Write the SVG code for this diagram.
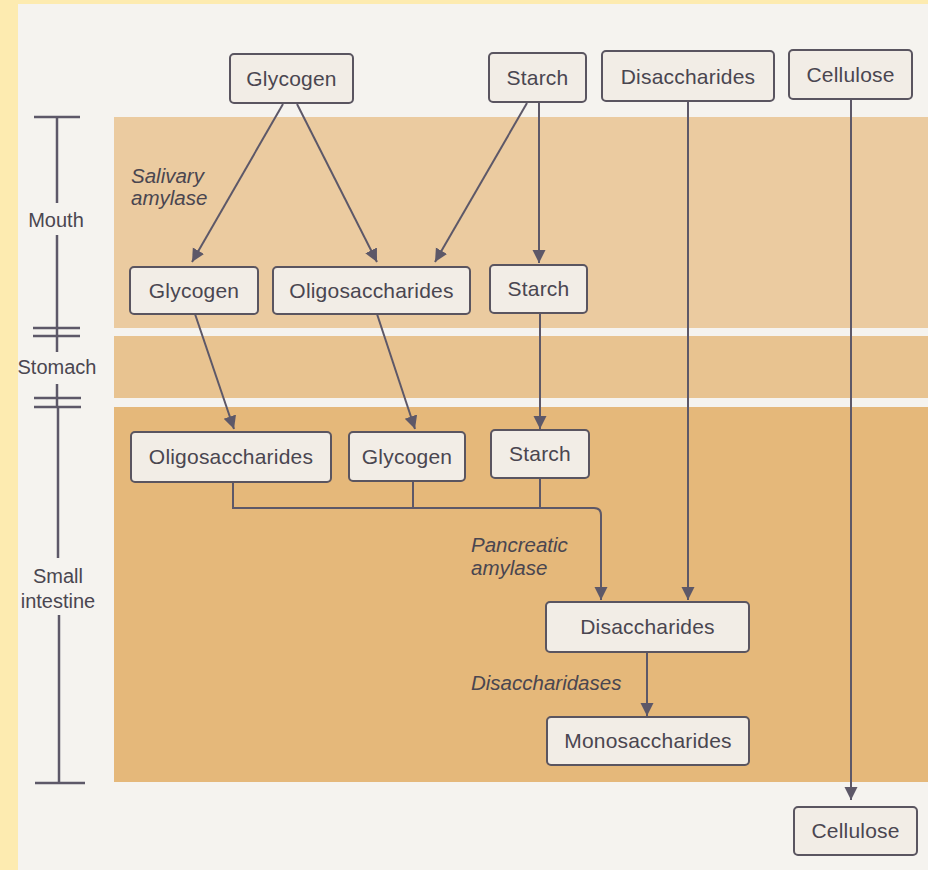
<svg xmlns="http://www.w3.org/2000/svg" width="928" height="870" viewBox="0 0 928 870">
<style>
.node rect{fill:#f2ede6;stroke:#5a5560;stroke-width:2}
.node text{font-family:"Liberation Sans",Arial,sans-serif;font-size:21px;letter-spacing:0.2px;fill:#4a4650;text-anchor:middle}
.lbl{font-family:"Liberation Sans",Arial,sans-serif;font-size:20px;fill:#4a4650}
.it{font-style:italic;font-size:20.5px}
.conn path,.conn line{stroke:#5d5868;stroke-width:2;fill:none}
.scale line{stroke:#5d5868;stroke-width:2.5}
</style>
<defs>
<marker id="ah" markerUnits="userSpaceOnUse" markerWidth="14" markerHeight="14" refX="13" refY="7" orient="auto">
<path d="M0,0.5 L13,7 L0,13.5 z" fill="#5d5868"/>
</marker>
</defs>
<rect x="0" y="0" width="928" height="870" fill="#f5f3ef"/>
<rect x="0" y="0" width="928" height="4" fill="#fdebb0"/>
<rect x="0" y="0" width="18" height="870" fill="#fdebb0"/>
<rect x="114" y="117" width="814" height="211" fill="#ebcba0"/>
<rect x="114" y="336" width="814" height="62" fill="#e8c390"/>
<rect x="114" y="407" width="814" height="375" fill="#e5b87a"/>
<g id="scale" class="scale">
<line x1="34" y1="117" x2="80" y2="117"/>
<line x1="57" y1="117" x2="57" y2="203"/>
<line x1="57" y1="235" x2="57" y2="336"/>
<line x1="33" y1="328" x2="80" y2="328"/>
<line x1="33" y1="336" x2="80" y2="336"/>
<line x1="57" y1="336" x2="57" y2="352"/>
<line x1="57" y1="384" x2="57" y2="407"/>
<line x1="34" y1="398" x2="81" y2="398"/>
<line x1="34" y1="407" x2="81" y2="407"/>
<line x1="58" y1="407" x2="58" y2="558"/>
<line x1="59" y1="615" x2="59" y2="783"/>
<line x1="35" y1="783" x2="85" y2="783"/>
<text class="lbl" x="56" y="227" text-anchor="middle">Mouth</text>
<text class="lbl" x="57" y="374" text-anchor="middle">Stomach</text>
<text class="lbl" x="58" y="583" text-anchor="middle">Small</text>
<text class="lbl" x="58" y="608" text-anchor="middle">intestine</text>
</g>
<g id="conn" class="conn">
<line x1="283" y1="104" x2="192" y2="262" marker-end="url(#ah)"/>
<line x1="297" y1="104" x2="377" y2="262" marker-end="url(#ah)"/>
<line x1="527" y1="103" x2="435" y2="262" marker-end="url(#ah)"/>
<line x1="539" y1="103" x2="539" y2="263" marker-end="url(#ah)"/>
<line x1="688" y1="101" x2="688" y2="600" marker-end="url(#ah)"/>
<line x1="851" y1="100" x2="851" y2="800" marker-end="url(#ah)"/>
<line x1="195" y1="314" x2="234" y2="429" marker-end="url(#ah)"/>
<line x1="377" y1="314" x2="415" y2="429" marker-end="url(#ah)"/>
<line x1="540" y1="313" x2="540" y2="429" marker-end="url(#ah)"/>
<path d="M233,482 V508 H594 Q601,508 601,515 V600" marker-end="url(#ah)"/>
<line x1="413" y1="481" x2="413" y2="508"/>
<line x1="540" y1="478" x2="540" y2="508"/>
<line x1="647" y1="652" x2="647" y2="716" marker-end="url(#ah)"/>
</g>
<text class="lbl it" x="131" y="183">Salivary</text>
<text class="lbl it" x="131" y="205">amylase</text>
<text class="lbl it" x="471" y="552">Pancreatic</text>
<text class="lbl it" x="471" y="575">amylase</text>
<text class="lbl it" x="471" y="690">Disaccharidases</text>
<g id="n-glycogen-top" class="node"><rect x="230" y="54" width="123" height="49" rx="4"/><text x="291.5" y="86">Glycogen</text></g>
<g id="n-starch-top" class="node"><rect x="489" y="53" width="97" height="49" rx="4"/><text x="537.5" y="85">Starch</text></g>
<g id="n-disacch-top" class="node"><rect x="602" y="51" width="172" height="50" rx="4"/><text x="688" y="84">Disaccharides</text></g>
<g id="n-cellulose-top" class="node"><rect x="789" y="50" width="123" height="49" rx="4"/><text x="850.5" y="82">Cellulose</text></g>
<g id="n-glycogen-mouth" class="node"><rect x="130" y="267" width="128" height="47" rx="4"/><text x="194" y="298">Glycogen</text></g>
<g id="n-oligo-mouth" class="node"><rect x="273" y="267" width="197" height="47" rx="4"/><text x="371.5" y="298">Oligosaccharides</text></g>
<g id="n-starch-mouth" class="node"><rect x="490" y="265" width="97" height="48" rx="4"/><text x="538.5" y="296">Starch</text></g>
<g id="n-oligo-si" class="node"><rect x="131" y="432" width="200" height="50" rx="4"/><text x="231" y="464">Oligosaccharides</text></g>
<g id="n-glycogen-si" class="node"><rect x="349" y="432" width="116" height="49" rx="4"/><text x="407" y="464">Glycogen</text></g>
<g id="n-starch-si" class="node"><rect x="491" y="430" width="98" height="48" rx="4"/><text x="540" y="461">Starch</text></g>
<g id="n-disacch-si" class="node"><rect x="546" y="602" width="203" height="50" rx="4"/><text x="647.5" y="634">Disaccharides</text></g>
<g id="n-mono" class="node"><rect x="547" y="717" width="202" height="48" rx="4"/><text x="648" y="748">Monosaccharides</text></g>
<g id="n-cellulose-bottom" class="node"><rect x="794" y="807" width="123" height="48" rx="4"/><text x="855.5" y="838">Cellulose</text></g>
</svg>
